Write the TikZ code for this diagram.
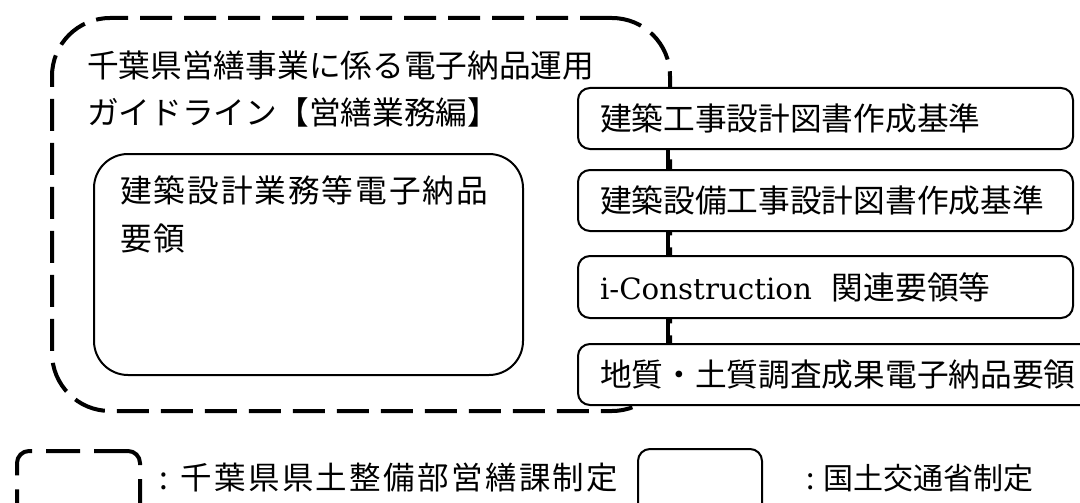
\documentclass[tikz,border=0pt]{standalone}
\usepackage{fontspec}
\newfontfamily\jp{Noto Sans CJK JP}
\newfontfamily\jpls{Noto Sans CJK JP}[LetterSpace=6]
\newfontfamily\jplg{Noto Sans CJK JP}[LetterSpace=7.5]
\newfontfamily\latinserif{DejaVu Serif}
\begin{document}
\begin{tikzpicture}[x=1pt,y=-1pt,
  txt/.style={inner sep=0pt, font=\jp\fontsize{31.7}{40}\selectfont},
  govbox/.style={draw, line width=2pt, rounded corners=12pt, fill=white,
    anchor=north west, minimum height=61pt, inner xsep=22pt, align=left,
    font=\jp\fontsize{31.7}{40}\selectfont},
  prefbox/.style={draw, line width=4pt, dash pattern=on 32pt off 12pt,
    rounded corners=58pt, anchor=north west, inner sep=0pt},
  innerbox/.style={draw, line width=2pt, rounded corners=34pt,
    anchor=north west, inner sep=0pt},
  link/.style={line width=3.5pt}
]
\useasboundingbox (0,0) rectangle (1080,503);
\clip (0,0) rectangle (1080,503);

% dashed outer frame (Chiba prefecture)
\node[prefbox, minimum width=618pt, minimum height=393pt] (pref) at (50,16) {};
\node[txt, anchor=base west] (title1) at (87,77.5) {千葉県営繕事業に係る電子納品運用};
\node[txt, anchor=base west] (title2) at (87,124.5) {ガイドライン【営繕業務編】};

% inner box
\node[innerbox, minimum width=429pt, minimum height=221pt] (inner) at (93,153) {};
\node[txt, anchor=base west, font=\jpls\fontsize{31.7}{40}\selectfont] (in1) at (120,202) {建築設計業務等電子納品};
\node[txt, anchor=base west, font=\jpls\fontsize{31.7}{40}\selectfont] (in2) at (120,250) {要領};

% MLIT boxes
\node[govbox, text width=451pt] (g1) at (577,87) {建築工事設計図書作成基準};
\node[govbox, text width=451pt] (g2) at (577,169) {建築設備工事設計図書作成基準};
\node[govbox, text width=451pt, minimum height=62pt] (g3) at (577,255) {{\latinserif\fontsize{29.3}{40}\selectfont i-Construction}\hspace{20pt}関連要領等};
\node[govbox, text width=486pt] (g4) at (577,343) {地質・土質調査成果電子納品要領};

\draw[link] ([xshift=91pt]g1.south west) -- ([xshift=91pt]g2.north west);
\draw[link] ([xshift=91pt]g2.south west) -- ([xshift=91pt]g3.north west);
\draw[link] ([xshift=91pt]g3.south west) -- ([xshift=91pt]g4.north west);

% legend
\node[draw, line width=4pt, dash pattern=on 34pt off 14pt, rounded corners=12pt,
  anchor=north west, inner sep=0pt, minimum width=123pt, minimum height=90pt] (legpref) at (15,449) {};
\node[txt, anchor=west, font=\jplg\fontsize{31.5}{40}\selectfont] (legt1) at (159,478) {: 千葉県県土整備部営繕課制定};
\node[draw, line width=2pt, rounded corners=12pt, anchor=north west, inner sep=0pt,
  minimum width=124pt, minimum height=90pt] (leggov) at (637,448) {};
\node[txt, anchor=west, font=\jp\fontsize{30}{40}\selectfont] (legt2) at (806,478) {: 国土交通省制定};
\end{tikzpicture}
\end{document}
